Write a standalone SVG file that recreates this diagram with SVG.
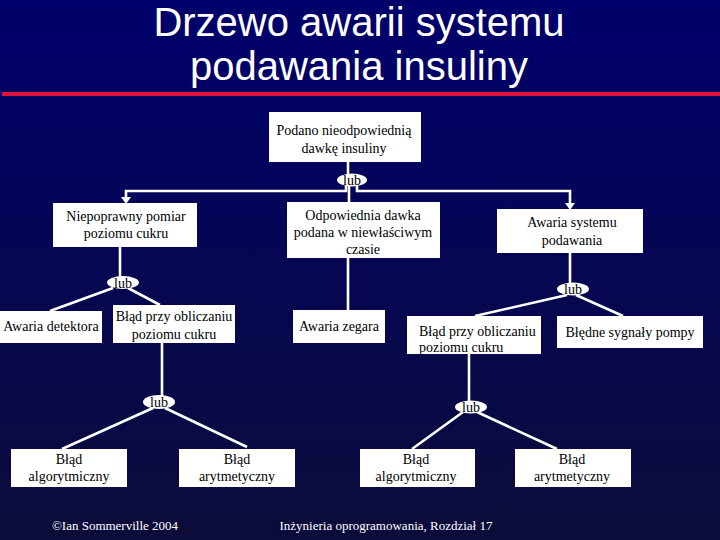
<svg xmlns="http://www.w3.org/2000/svg" width="720" height="540" viewBox="0 0 720 540">
  <defs>
    <linearGradient id="bg" x1="0" y1="0" x2="0" y2="1">
      <stop offset="0" stop-color="#00006c"/>
      <stop offset="1" stop-color="#0c0c3a"/>
    </linearGradient>
    <style>
      .title { font-family: "Liberation Sans", Arial, sans-serif; font-size: 40px; fill: #fff; text-anchor: middle; }
      .box { fill: #fff; stroke: none; }
      .t { font-family: "Liberation Serif", "Times New Roman", "DejaVu Serif", serif; font-size: 14px; fill: #000; text-anchor: middle; }
      .tl { font-family: "Liberation Serif", "Times New Roman", "DejaVu Serif", serif; font-size: 14px; fill: #000; }
      .lub { fill: #fff; }
      .foot { font-family: "Liberation Serif", "Times New Roman", "DejaVu Serif", serif; font-size: 13px; fill: #fff; text-anchor: middle; }
      .c { stroke: #fff; stroke-width: 2.6; fill: none; }
      .ah { fill: #fff; }
    </style>
  </defs>
  <rect x="0" y="0" width="720" height="540" fill="url(#bg)"/>
  <g id="title">
    <text class="title" x="359" y="36">Drzewo awarii systemu</text>
    <text class="title" x="359" y="80">podawania insuliny</text>
    <rect x="2" y="92" width="718" height="4" fill="#dc143c"/>
  </g>

  <g id="connectors">
    <path class="c" d="M348,162 V174"/>
    <path class="c" d="M346,186 V191 H126 V197"/>
    <path class="c" d="M357,186 V191 H570 V203"/>
    <path class="c" d="M349,186 V202"/>
    <polygon class="ah" points="121,197 131,197 126,204"/>
    <polygon class="ah" points="565,203 575,203 570,210"/>
    <path class="c" d="M120,247 V277"/>
    <path class="c" d="M113,288 L50,311"/>
    <path class="c" d="M128,288 L160,305"/>
    <path class="c" d="M348,258 V310"/>
    <path class="c" d="M570,253 V283"/>
    <path class="c" d="M567,295 L475,316"/>
    <path class="c" d="M576,295 L623,316"/>
    <path class="c" d="M162,343 V396"/>
    <path class="c" d="M153,408 L62,449"/>
    <path class="c" d="M165,408 L247,447"/>
    <path class="c" d="M469,354 V401"/>
    <path class="c" d="M463,412 L412,449"/>
    <path class="c" d="M477,412 L557,449"/>
  </g>

  <g id="lub1"><ellipse class="lub" cx="352" cy="180" rx="15" ry="6.5"/><text class="t" x="352" y="185">lub</text></g>
  <g id="lub2"><ellipse class="lub" cx="123" cy="282.5" rx="16" ry="6.5"/><text class="t" x="123" y="287.5">lub</text></g>
  <g id="lub3"><ellipse class="lub" cx="159" cy="402" rx="16" ry="7"/><text class="t" x="159" y="407">lub</text></g>
  <g id="lub4"><ellipse class="lub" cx="573" cy="289" rx="16" ry="6.5"/><text class="t" x="573" y="294">lub</text></g>
  <g id="lub5"><ellipse class="lub" cx="471" cy="407" rx="16" ry="6.5"/><text class="t" x="471" y="412">lub</text></g>

  <g id="root">
    <rect class="box" x="269" y="112" width="152" height="50"/>
    <text class="t" x="344" y="135">Podano nieodpowiednią</text>
    <text class="t" x="344" y="153">dawkę insuliny</text>
  </g>
  <g id="n-pomiar">
    <rect class="box" x="53" y="203" width="144" height="44"/>
    <text class="t" x="126" y="221">Niepoprawny pomiar</text>
    <text class="t" x="126" y="238">poziomu cukru</text>
  </g>
  <g id="n-czas">
    <rect class="box" x="287" y="202" width="153" height="56"/>
    <text class="t" x="363" y="220">Odpowiednia dawka</text>
    <text class="t" x="363" y="237">podana w niewłaściwym</text>
    <text class="t" x="363" y="254">czasie</text>
  </g>
  <g id="n-system">
    <rect class="box" x="497" y="209" width="146" height="44"/>
    <text class="t" x="572" y="227">Awaria systemu</text>
    <text class="t" x="572" y="245">podawania</text>
  </g>
  <g id="n-detektor">
    <rect class="box" x="0" y="311" width="102" height="32"/>
    <text class="t" x="51" y="331">Awaria detektora</text>
  </g>
  <g id="n-oblicz1">
    <rect class="box" x="113" y="305" width="122" height="38"/>
    <text class="t" x="174" y="321">Błąd przy obliczaniu</text>
    <text class="t" x="174" y="339">poziomu cukru</text>
  </g>
  <g id="n-zegar">
    <rect class="box" x="293" y="310" width="92" height="33"/>
    <text class="t" x="339" y="331">Awaria zegara</text>
  </g>
  <g id="n-oblicz2">
    <rect class="box" x="407" y="316" width="134" height="38"/>
    <text class="tl" x="419" y="336">Błąd przy obliczaniu</text>
    <text class="tl" x="419" y="352">poziomu cukru</text>
  </g>
  <g id="n-pompa">
    <rect class="box" x="557" y="316" width="146" height="32"/>
    <text class="t" x="630" y="337">Błędne sygnały pompy</text>
  </g>
  <g id="n-alg1">
    <rect class="box" x="11" y="449" width="116" height="38"/>
    <text class="t" x="69" y="464">Błąd</text>
    <text class="t" x="69" y="481">algorytmiczny</text>
  </g>
  <g id="n-ary1">
    <rect class="box" x="179" y="449" width="116" height="38"/>
    <text class="t" x="237" y="464">Błąd</text>
    <text class="t" x="237" y="481">arytmetyczny</text>
  </g>
  <g id="n-alg2">
    <rect class="box" x="360" y="449" width="115" height="38"/>
    <text class="t" x="416" y="464">Błąd</text>
    <text class="t" x="416" y="481">algorytmiczny</text>
  </g>
  <g id="n-ary2">
    <rect class="box" x="515" y="449" width="116" height="38"/>
    <text class="t" x="572" y="464">Błąd</text>
    <text class="t" x="572" y="481">arytmetyczny</text>
  </g>

  <g id="footer">
    <text class="foot" x="115" y="530">©Ian Sommerville 2004</text>
    <text class="foot" x="386" y="530">Inżynieria oprogramowania, Rozdział 17</text>
  </g>
</svg>
